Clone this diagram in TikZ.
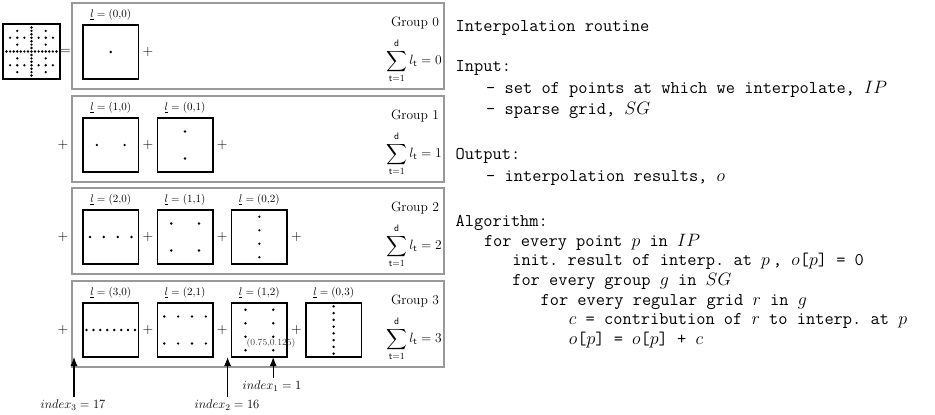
\RequirePackage{fix-cm}
\documentclass[tikz,border=0pt]{standalone}
\usepackage{exscale}
\usepackage{fontspec}
\usetikzlibrary{arrows.meta}
% dots of a regular grid of levels (lx,ly) inside a box node
\newcommand\sgpts[6]{% node, lx, ly, W, H, radius
  \pgfmathtruncatemacro\sgnx{2^(#2)}%
  \pgfmathtruncatemacro\sgny{2^(#3)}%
  \foreach \sgi in {1,...,\sgnx}{\foreach \sgj in {1,...,\sgny}{%
    \fill ([shift={({#4*(2*\sgi-1)/(2*\sgnx)},{#5*(2*\sgj-1)/(2*\sgny)})}]#1.north west) circle (#6);}}}
\begin{document}
\begin{tikzpicture}[x=1pt,y=-1pt,
  grp/.style={draw=black!40,line width=1.2pt,minimum width=372pt,minimum height=86pt,inner sep=0pt,outer sep=0pt,anchor=north west},
  sq/.style={draw,line width=1.5pt,minimum width=55.5pt,minimum height=54pt,inner sep=0pt,outer sep=0pt,anchor=north west},
  icon/.style={draw,line width=1.6pt,minimum width=57pt,minimum height=55pt,inner sep=0pt,outer sep=0pt,anchor=north west},
  lvl/.style={font=\fontsize{11}{13}\selectfont,inner sep=0pt},
  op/.style={font=\fontsize{14}{16}\selectfont,inner sep=0pt},
  gtxt/.style={font=\fontsize{13.5}{16}\selectfont,inner sep=0pt},
  gsum/.style={font=\fontsize{13.5}{16}\selectfont,inner sep=0pt},
  code/.style={font=\fontsize{17.9}{21}\selectfont\ttfamily\frenchspacing,anchor=base west,inner sep=0pt},
  idx/.style={font=\fontsize{12.6}{14}\selectfont,inner sep=2pt},
  tiny/.style={font=\fontsize{9.3}{10}\selectfont,inner sep=0pt,text=black!75},
  arr/.style={-{Latex[length=9pt,width=7pt]},line width=1.1pt}]
\useasboundingbox (0,0) rectangle (935,415);

% full sparse grid icon
\node[icon] (ic) at (3,24) {};
\foreach \a/\b in {0/0,1/0,0/1,2/0,1/1,0/2,3/0,2/1,1/2,0/3}{\sgpts{ic}{\a}{\b}{57}{55}{1.35pt}}
\node[op] (eq) at (65.5,52) {$=$};

% groups
\foreach \g/\T in {0/3,1/96,2/188,3/281}{
  \node[grp] (g\g) at (72,\T) {};
  \node[gtxt] (gt\g) at (415,{\T+20}) {Group \g};
  \node[gsum] (gs\g) at (414,{\T+58}) {$\displaystyle\sum_{\mathsf{t}=1}^{\mathsf{d}} l_{\mathsf{t}}=\g$};
  \foreach \i in {0,...,\g}{
    \pgfmathtruncatemacro\lx{\g-\i}
    \node[sq] (s\g\i) at ({83+74.3*\i},{\T+22}) {};
    \node[lvl,above=4.5pt] (l\g\i) at (s\g\i.north) {$\underline{l}=(\lx{,}\i)$};
    \sgpts{s\g\i}{\lx}{\i}{55.5}{54}{1.35pt}
  }
}
% plus signs
\foreach \g/\T/\n in {0/3/0,1/96/1,2/188/2,3/281/2}{
  \foreach \i in {0,...,\n}{\node[op] (p\g\i) at ({147.9+74.3*\i},{\T+49}) {$+$};}
}
\foreach \g/\T in {1/96,2/188,3/281}{\node[op] (b\g) at (63,{\T+49}) {$+$};}

% point label and index arrows
\node[tiny] (pt) at (271,343) {(0.75,0.125)};
\coordinate (tip1) at ([xshift=41.6pt]s32.south west);
\coordinate (tip2) at ([xshift=-4pt]s32.south west);
\coordinate (tip3) at (74,357);
\node[idx] (i1) at (272,386) {$index_1=1$};
\node[idx] (i2) at (227,405) {$index_2=16$};
\node[idx] (i3) at (73,405) {$index_3=17$};
\draw[arr] (i1.north -| tip1) -- (tip1);
\draw[arr] (i2.north -| tip2) -- (tip2);
\draw[arr] (i3.north -| tip3) -- (tip3);

% algorithm text
\node[code] (c1) at (455.5,31.5) {Interpolation routine};
\node[code] (c2) at (455.5,71.5) {Input:};
\node[code] (c3) at (486,93.5) {- set of points at which we interpolate, $IP$};
\node[code] (c4) at (486,114.5) {- sparse grid, $SG$};
\node[code] (c5) at (455.5,159.5) {Output:};
\node[code] (c6) at (486,181.5) {- interpolation results, $o$};
\node[code] (c7) at (455.5,226.5) {Algorithm:};
\node[code] (c8) at (483.8,246.2) {for every point $p$ in $IP$};
\node[code] (c9) at (512.1,265.8) {init. result of interp. at $p$\,, $o$[$p$] = 0};
\node[code] (c10) at (512.1,285.5) {for every group $g$ in $SG$};
\node[code] (c11) at (540.4,305.2) {for every regular grid $r$ in $g$};
\node[code] (c12) at (568.7,324.8) {$c$ = contribution of $r$ to interp. at $p$};
\node[code] (c13) at (568.7,344.5) {$o$[$p$] = $o$[$p$] + $c$};
\end{tikzpicture}
\end{document}
